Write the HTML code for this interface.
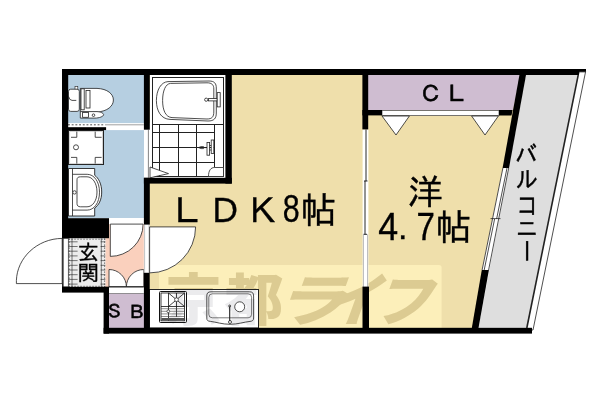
<!DOCTYPE html>
<html lang="ja">
<head>
<meta charset="utf-8">
<title>間取り図</title>
<style>
html,body{margin:0;padding:0;background:#fff;}
body{width:600px;height:400px;overflow:hidden;}
svg{display:block;}
text{font-family:"Liberation Sans","IPAGothic",sans-serif;}
.wm text{font-family:"Liberation Sans","Noto Sans CJK JP",sans-serif;font-weight:900;font-size:56px;}
.ln{fill:none;stroke:#222;stroke-width:.8;}
.wf{fill:#fff;stroke:#222;stroke-width:.8;}
</style>
</head>
<body>
<svg width="600" height="400" viewBox="0 0 600 400">
<rect width="600" height="400" fill="#fff"/>

<!-- room fills -->
<g id="fills">
  <polygon points="149,75 521,75 473,328 149,328" fill="#efdfab"/>
  <rect x="68" y="75" width="76" height="143" fill="#b6cfe1"/>
  <rect x="68" y="123.1" width="82" height="7" fill="#fff"/>
  <polygon points="368,75 520.5,75 513,110 368,110" fill="#cfbdd1"/>
  <polygon points="526,74.6 578.1,74.6 526.7,327.8 478.5,327.8" fill="#dedede"/>
  <rect x="105.3" y="219" width="38.7" height="68" fill="#fad0bd"/>
  <rect x="109" y="218.6" width="35" height="5.5" fill="#fff"/>
  <rect x="68" y="238" width="37.3" height="49" fill="#ececec"/>
  <rect x="109" y="286.7" width="35" height="7" fill="#fff"/>
  <rect x="109" y="293.5" width="35" height="35" fill="#cfbdd1"/>
  <rect x="150" y="75" width="76" height="103" fill="#fff"/>
</g>

<!-- watermark -->
<defs>
  <pattern id="wmf" patternUnits="userSpaceOnUse" x="0" y="0" width="600" height="400">
    <rect width="600" height="400" fill="#dccb92"/>
    <rect x="149.5" y="289.2" width="109.2" height="39" fill="#ebebed"/>
  </pattern>
</defs>
<g id="watermark" class="wm">
  <path d="M162,265 H439 Q441.6,265 441.6,267.6 V328 H159 V268 Q159,265 162,265Z" fill="#fcefba"/>
  <rect x="149.5" y="289.2" width="109.2" height="39" fill="#fff"/>
  <text x="165.4" y="319.5" fill="url(#wmf)">京</text>
  <text x="224.4" y="319.5" textLength="58.8" lengthAdjust="spacingAndGlyphs" fill="url(#wmf)">都</text>
  <g fill="#dccb92">
  <text transform="translate(273.3,321) skewX(-20) scale(1.29,1)">ラ</text>
  <text transform="translate(321.5,321) skewX(-20) scale(1.0,1.03)">イ</text>
  <text transform="translate(370.5,321) skewX(-20) scale(1.06,1)">フ</text>
  </g>
</g>

<!-- bath -->
<g id="bath">
  <rect class="ln" x="152.5" y="77.5" width="71" height="47" style="stroke-width:1"/>
  <rect class="ln" x="152.5" y="124.5" width="71" height="52" style="stroke-width:1"/>
  <path class="ln" d="M159.5,124.5V176.5M178.5,124.5V176.5M196.5,124.5V176.5M214.5,124.5V167.5M152.5,132.5H214.5M152.5,147.5H214.5M152.5,162.5H214.5" style="stroke-width:1"/>
  <path class="wf" d="M168,81.6 L209,81 C214.5,81 216.3,83.5 216.3,88 L216.3,113 C216.3,118.5 214,121 208,121 L170,119.4 C161,119 156.4,111 156.4,100.5 C156.4,90 161,82 168,81.6Z"/>
  <path class="ln" d="M170.5,83.4 L207,82.8 C212,82.8 213.8,85 213.8,89 L213.8,112 C213.8,116.8 212,119 207,119 L172,117.6 C165.5,117.2 162.6,110 162.6,100.5 C162.6,91 165.5,83.8 170.5,83.4Z"/>
  <circle class="wf" cx="206.2" cy="99.7" r="1.6"/>
  <rect class="wf" x="208.5" y="98.6" width="8.7" height="2.3"/>
  <rect class="wf" x="217.2" y="92.6" width="3" height="14.3"/>
  <path class="wf" d="M208.5,176.5 C208.5,170.5 210.8,167.5 214.5,167.5 L223.5,167.5 L223.5,176.5Z"/>
  <!-- shower -->
  <path class="ln" d="M198.6,147.6 L201,146.6 L203.5,146.6 L203.5,148.6 L201,148.6Z M203.5,147.6H207"/>
  <rect class="wf" x="207" y="142.5" width="2.6" height="12.7"/>
  <rect class="wf" x="211.2" y="140" width="2.6" height="13.4"/>
  <path class="ln" d="M209.6,145.5H211.2M209.6,150H211.2"/>
  <!-- door -->
  <rect x="144.2" y="129.7" width="5.8" height="48.1" fill="#fff"/>
  <path class="ln" d="M148.4,129.7V177.8" style="stroke:#666"/>
  <path class="wf" d="M150,167 L168.5,173.6 L150,177.8Z"/>
</g>

<!-- toilet -->
<g id="toilet">
  <path class="ln" d="M68,124.8H105" style="stroke-dasharray:1.9,1.8"/>
  <path class="ln" d="M105,124.8H143.8" style="stroke:#888"/>
  <rect class="wf" x="75" y="86.4" width="2.8" height="3.4" style="stroke-width:.6"/>
  <rect class="wf" x="68.5" y="89.2" width="10.8" height="22.2" rx="2.2"/>
  <path class="ln" d="M68.6,96.5 Q69.2,100.2 72,100.4 H76.3"/>
  <path class="wf" d="M80.3,88.4 L97,88.4 C107.5,88.8 113.4,94 113.4,100 C113.4,106 107.5,111.4 97,112 L80.3,112Z"/>
  <rect class="wf" x="81" y="88.8" width="3.2" height="21"/>
  <rect class="wf" x="86" y="90.5" width="4" height="17.5"/>
  <path class="wf" d="M80.3,111.6 L97,111.6 C100,111.8 103.6,113 103.6,114.6 C103.6,116.6 99,118.1 95,118.1 L80.3,118.1Z"/>
  <rect class="wf" x="82.6" y="112.4" width="5.8" height="4.9"/>
  <circle class="wf" cx="93.5" cy="115.2" r="1.3"/>
</g>

<!-- washing machine pan -->
<g id="pan">
  <rect class="wf" x="68.5" y="130.5" width="35" height="34" style="stroke-width:1"/>
  <rect class="ln" x="69.8" y="131.6" width="32.6" height="32.2" style="stroke-width:.5;stroke:#aaa"/>
  <path class="ln" d="M71,137.3H76.8V131.6M95.2,131.6V137.3H101.6M71,157.4H76.8V163.6M95.2,163.6V157.4H101.6"/>
  <circle class="wf" cx="76" cy="147.3" r="2.5"/>
</g>

<!-- wash basin -->
<g id="basin">
  <path class="wf" d="M68.5,168.5 H94.7 V175.3 C98.5,178 101.7,184 101.7,192 C101.7,200 98.5,205.5 94.7,208 V216 H68.5Z" style="stroke-width:.9"/>
  <path class="ln" d="M72.5,168.5V216"/>
  <path class="ln" d="M72.5,174.3 H87.2 C94,174.3 99.5,181.5 99.5,192.2 C99.5,203 94,210.1 87.2,210.1 H72.5"/>
  <path class="ln" d="M80.5,176.8 H87 C92.5,176.8 97,183 97,192 C97,201 92.5,206.8 87,206.8 H80.5 C78,206.8 77,205.6 77,203.5 V179.8 C77,177.8 78,176.8 80.5,176.8Z"/>
  <circle class="wf" cx="74.5" cy="192.4" r="1.7"/>
</g>

<!-- kitchen -->
<g id="kitchen">
  <rect class="ln" x="149.5" y="289.5" width="109" height="38.5" style="stroke-width:1"/>
  <rect class="ln" x="159.5" y="291.5" width="27" height="31" rx="1" style="stroke-width:1;stroke:#111"/>
  <rect class="ln" x="161" y="293" width="23.5" height="27.8" style="stroke-width:.8;stroke:#111"/>
  <path class="ln" d="M168.5,293V320.8M168.5,293L184.5,306.5M184.5,293L168.5,306.5M176.5,293V317M161,306.5H184.5" style="stroke-width:.8;stroke:#111"/>
  <path class="ln" d="M161,308.7H184.5M161,311.3H184.5M161,313.9H184.5M161,316.5H184.5" style="stroke-width:.6;stroke:#444"/>
  <circle class="wf" cx="176.5" cy="299.7" r="1.9" style="stroke-width:.7"/>
  <circle class="wf" cx="168.3" cy="311.3" r="1.4" style="stroke-width:.7"/>
  <rect x="161.4" y="318" width="22.8" height="2.4" fill="#555"/>
  <path class="ln" d="M211,291.8 L249.5,291.8 C252.4,291.8 253.6,293 253.6,296 L253.6,318 C253.6,320.4 252.4,321.2 250,321.4 C244,322 238,324.3 230,324.3 C222,324.3 216,322 210.5,321.4 C207.8,321.2 206.8,320.4 206.8,318 L206.8,296 C206.8,293 208,291.8 211,291.8Z"/>
  <rect class="ln" x="208.8" y="293.8" width="42.8" height="24" rx="3.5" style="stroke-width:.6"/>
  <circle class="wf" cx="239.7" cy="306.8" r="5"/>
  <path class="ln" d="M229.7,306.5V321" style="stroke-width:1.1"/>
  <circle class="ln" cx="229.7" cy="306" r="1"/>
  <circle class="ln" cx="230" cy="322" r="1.5"/>
</g>

<!-- doors -->
<g id="doors">
  <!-- genkan tiles -->
  <path class="ln" d="M68.3,241.8H77.6M68.3,246.5H77.6M68.3,251.2H77.6M68.3,255.9H77.6M68.3,260.6H77.6M68.3,265.3H77.6M68.3,270.0H77.6M68.3,274.7H77.6M68.3,279.4H77.6M68.3,284.1H77.6M100.6,241.8H105.3M100.6,246.5H105.3M100.6,251.2H105.3M100.6,255.9H105.3M100.6,260.6H105.3M100.6,265.3H105.3M100.6,270.0H105.3M100.6,274.7H105.3M100.6,279.4H105.3M100.6,284.1H105.3M72,238.4V287M101.3,238.4V287" style="stroke-width:.6"/>
  <path class="ln" d="M69.2,238.4V287M68.3,239.2H105.3M68.3,286.3H105.3M104.6,238.4V287" style="stroke-width:.6;stroke-dasharray:1.5,1.5"/>
  <!-- entrance door -->
  <rect class="wf" x="62.4" y="238.3" width="5.9" height="48.6" style="stroke-width:.7"/>
  <path class="ln" d="M62.9,238.3V286.9" style="stroke-width:1.3;stroke:#111"/>
  <path class="wf" d="M62.2,238.4 C37,238.6 17,258 16.4,280.5 L16.4,283.6 L62.2,283.6Z"/>
  <!-- hall door to washroom -->
  <path class="wf" d="M110.3,224.1 L143.1,224.1 A32.8,32.3 0 0 1 110.3,256.4Z"/>
  <!-- SB double doors -->
  <path class="wf" d="M109,269.5 A17.4,17.4 0 0 1 126.4,286.9 L109,286.9Z"/>
  <path class="wf" d="M143.8,269.5 A17.4,17.4 0 0 0 126.4,286.9 L143.8,286.9Z"/>
  <path class="ln" d="M109,286.7H143.8" style="stroke-width:1.1"/>
  <path class="ln" d="M109,293.5H143.8" style="stroke-width:.6;stroke:#555"/>
  <!-- LDK door -->
  <rect x="143.8" y="224.6" width="6" height="48.2" fill="#fff"/>
  <path class="ln" d="M144.6,224.6V272.8M149,224.6V272.8" style="stroke-width:.6;stroke:#999"/>
  <path class="wf" d="M149.6,226.9 L195.6,226.9 A46,46 0 0 1 149.6,272.9Z"/>
  <!-- bedroom sliding door -->
  <rect x="362.6" y="129.5" width="5.8" height="157.5" fill="#fff"/>
  <path class="ln" d="M366,129.5V181M365,181V234.3M364,181H367.5M363.5,234.3H367" style="stroke-width:.9;stroke:#111"/>
  <path class="ln" d="M363.4,234.3V287M367.6,234.3V287" style="stroke-width:.7;stroke:#999"/>
  <!-- closet doors -->
  <rect class="wf" x="382" y="110.5" width="117" height="5" style="stroke-width:.8;stroke:#555"/>
  <path class="wf" d="M382,116 L409.4,116 L396,135Z"/>
  <path class="wf" d="M471.6,116 L498.4,116 L485,135Z"/>
  <!-- window on sloped wall -->
  <polygon points="502.6,168 509,168 489,270 481.8,270" fill="#fff"/>
  <path class="ln" d="M502.9,168.0L482.1,270.0M508.7,168L488.6,270M507.0,168.0L496.6,219.0M494.6,219.0L484.2,270.0M490.5,218.6H500.5" style="stroke-width:.8"/>
  <!-- balcony railing -->
  <polygon points="579.9,71.65 585.6,71.65 533,330 527,330" fill="#fff"/>
  <path class="ln" d="M578.3,74.6L526.8,328" style="stroke-width:1.6"/>
  <path class="ln" d="M585.6,71.65L533,330M579.5,71.9H585.6M527,330H533" style="stroke-width:.8"/>
</g>


<!-- walls -->
<g id="walls" fill="#000">
  <polygon points="62,69 586,69 586,71.65 579.6,71.65 578.9,74.9 62,74.9"/>
  <rect x="62" y="69" width="6.2" height="169"/>
  <rect x="62" y="218.2" width="47" height="20"/>
  <rect x="143.9" y="69" width="5.9" height="60.7"/>
  <rect x="68" y="127.2" width="38.1" height="2.9"/>
  <rect x="225.4" y="74" width="6.4" height="109.6"/>
  <rect x="143.9" y="177.8" width="87.9" height="5.8"/>
  <rect x="143.9" y="177.8" width="5.9" height="46.8"/>
  <rect x="62" y="286.8" width="47" height="5.8"/>
  <rect x="103.6" y="286.8" width="5.4" height="46.8"/>
  <rect x="103.6" y="327.8" width="428.4" height="5.8"/>
  <rect x="143.9" y="272.8" width="5.8" height="56"/>
  <rect x="362.4" y="74" width="5.8" height="55.4"/>
  <rect x="362.5" y="286.6" width="6.5" height="42"/>
  <rect x="362.4" y="110" width="19.6" height="5.4"/>
  <polygon points="499,110 512.6,110 511.5,115.4 499,115.4"/>
  <polygon points="519.6,74 526.2,74 509,168 502.6,168"/>
  <polygon points="481.8,270 488.9,270 478.5,328 471.8,328"/>
</g>

<!-- labels -->
<g id="labels" stroke="#000" stroke-width=".35" opacity=".999">
  <text x="169.8" y="224.2" font-size="35">Ｌ</text>
  <text x="207.6" y="224.2" font-size="35">Ｄ</text>
  <text x="245.3" y="224.2" font-size="35">Ｋ</text>
  <text transform="translate(282.8,222.2) scale(.8,1)" font-size="38">8</text>
  <text x="300.6" y="223" font-size="36">帖</text>
  <text x="407.5" y="205" font-size="35.5">洋</text>
  <text transform="translate(378.3,239.7) scale(.93,1)" font-size="38.5">4</text>
  <text x="398" y="239.3" font-size="34">.</text>
  <text transform="translate(416.6,239.7) scale(.86,1)" font-size="38.5">7</text>
  <text x="435.4" y="240" font-size="36">帖</text>
  <text x="419.6" y="101.9" font-size="22.5" stroke-width=".6">Ｃ</text>
  <text x="445" y="102.2" font-size="23" stroke-width=".6">Ｌ</text>
  <text x="105.2" y="318.3" font-size="18.3" stroke-width=".6">Ｓ</text>
  <text x="127.3" y="318.6" font-size="18.8" stroke-width=".6">Ｂ</text>
  <text x="78" y="260" font-size="21">玄</text>
  <text x="77.6" y="281.3" font-size="21.5">関</text>
  <text transform="translate(515.3,152.4) scale(1,1.15)" y="9.9" font-size="22">バ</text>
  <text transform="translate(515.9,178.9) scale(1,1.11)" y="8.03" font-size="22">ル</text>
  <text transform="translate(516.4,205.5) scale(1,1.22)" y="7.37" font-size="22">コ</text>
  <text transform="translate(515.9,228.9) scale(1,1.09)" y="7.81" font-size="22">ニ</text>
  <text x="514.75" y="260.1" font-size="24" transform="rotate(90 526.75 251)">ー</text>
</g>
</svg>
</body>
</html>
